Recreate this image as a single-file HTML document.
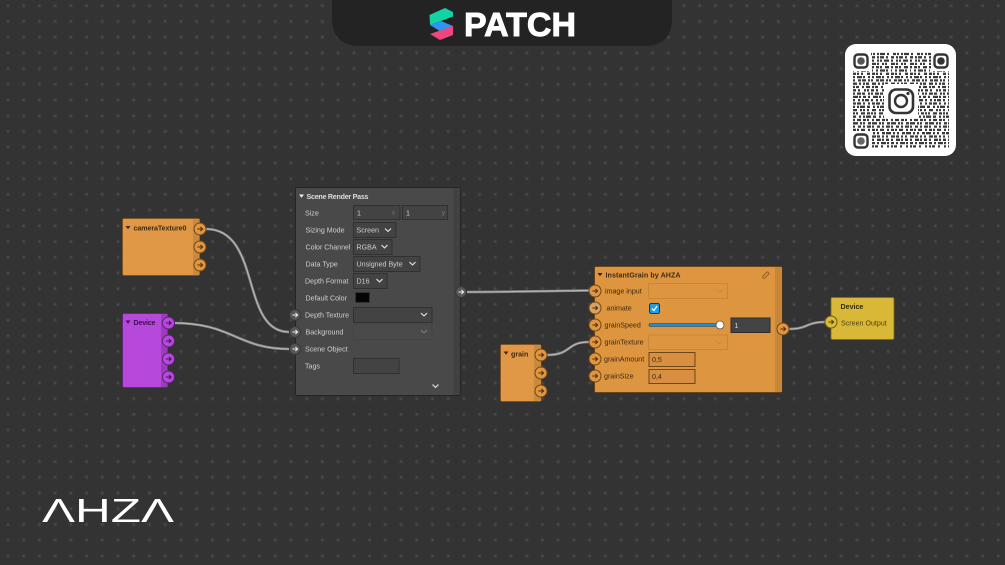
<!DOCTYPE html>
<html><head><meta charset="utf-8"><style>
html,body{margin:0;padding:0;background:#333}
svg{display:block;filter:blur(.35px)}
text{font-family:"Liberation Sans",sans-serif;font-size:7.1px}
.l{fill:#cfcfcf}.d{fill:#3d2a12}.b{font-weight:bold}
.inp{fill:#434343;stroke:#313131;stroke-width:1}
.dis{fill:#4a4a4a;stroke:#444;stroke-width:1}
.ch{fill:none;stroke:#ddd;stroke-width:1.2}
.w{fill:none;stroke:#858585;stroke-width:2.6}
.w2{fill:none;stroke:#bdbdbd;stroke-width:.9}
.oi{fill:#d98f42;stroke:#6e4718;stroke-width:1}
.od{fill:#dd9540;stroke:#c98638;stroke-width:1}
.q line{stroke:#3a3a3a;stroke-width:2.3}
</style></head><body>
<svg width="1005" height="565" viewBox="0 0 1005 565" xmlns="http://www.w3.org/2000/svg">
<defs>
<pattern id="g" width="15.72" height="15.72" patternUnits="userSpaceOnUse" x="0.14" y="-2.16">
<circle cx="7.86" cy="7.86" r="2.2" fill="#3a3a3a"/>
<circle cx="7.86" cy="7.86" r="1.1" fill="#4a4a4a"/>
</pattern>
<g id="a"><path d="M-2.6 0H2.4M.4-2 2.6 0 .4 2" fill="none" stroke-width="1"/></g>
<g id="po"><circle r="6" fill="#e09540" stroke="#6e4718"/><use href="#a" stroke="#4a2f0e"/></g>
<g id="pp"><circle r="6" fill="#b748dc" stroke="#5b2370"/><use href="#a" stroke="#401650"/></g>
<g id="pg"><circle r="5.5" fill="#575757" stroke="#383838"/><use href="#a" stroke="#eee"/></g>
<g id="py"><circle r="6" fill="#dbbb38" stroke="#6b5a12"/><use href="#a" stroke="#4a3d08"/></g>
<path id="c" d="M-3-1.4 0 1.4 3-1.4"/>
<path id="t" d="M-2.5-1.5H2.5L0 1.7Z"/>
</defs>
<rect width="1005" height="565" fill="#333"/>
<rect width="1005" height="565" fill="url(#g)"/>

<!-- top bar -->
<path d="M332 0H672V18Q672 46 644 46H360Q332 46 332 18Z" fill="#232323"/>
<polygon points="429.5,15 445,8 453,12 453,16.5 441,21 430,25" fill="#12d3a4"/>
<polygon points="430,25 441,21 453,26 453,29 443,33" fill="#2e95f2"/>
<polygon points="430,34 453,26 453,35 440,40" fill="#f0467f"/>
<text x="464" y="36" font-weight="bold" style="font-size:33px" fill="#fff" stroke="#fff" stroke-width=".9" textLength="112" lengthAdjust="spacingAndGlyphs">PATCH</text>

<!-- QR -->
<rect x="845" y="44" width="111" height="112" rx="11" fill="#fff"/>
<g class="q">
<line x1="853" x2="949" y1="54" y2="54" stroke-dasharray="2 1 5 2 2 4 3 1 2 2"/>
<line x1="853" x2="949" y1="57.3" y2="57.3" stroke-dasharray="3 2 2 1 4 2 2 3"/>
<line x1="853" x2="949" y1="60.6" y2="60.6" stroke-dasharray="2 3 2 1 2 2 5 2"/>
<line x1="853" x2="949" y1="63.9" y2="63.9" stroke-dasharray="4 1 2 3 2 1 2 4"/>
<line x1="853" x2="949" y1="67.2" y2="67.2" stroke-dasharray="2 2 3 1 2 3 4 2"/>
<line x1="853" x2="949" y1="70.5" y2="70.5" stroke-dasharray="1 3 2 2 5 1 2 3"/>
<line x1="853" x2="949" y1="73.8" y2="73.8" stroke-dasharray="3 1 2 2 2 4 3 2"/>
<line x1="853" x2="949" y1="77.1" y2="77.1" stroke-dasharray="2 2 5 1 2 3 2 2"/>
<line x1="853" x2="949" y1="80.4" y2="80.4" stroke-dasharray="2 3 3 1 4 2 2 1"/>
<line x1="853" x2="949" y1="83.7" y2="83.7" stroke-dasharray="4 2 2 2 2 1 3 3"/>
<line x1="853" x2="949" y1="87" y2="87" stroke-dasharray="2 1 3 3 2 2 4 2"/>
<line x1="853" x2="949" y1="90.3" y2="90.3" stroke-dasharray="3 2 2 4 2 1 2 2"/>
<line x1="853" x2="949" y1="93.6" y2="93.6" stroke-dasharray="2 2 4 1 3 3 2 1"/>
<line x1="853" x2="949" y1="96.9" y2="96.9" stroke-dasharray="5 1 2 2 3 2 2 3"/>
<line x1="853" x2="949" y1="100.2" y2="100.2" stroke-dasharray="2 3 2 2 2 1 4 2"/>
<line x1="853" x2="949" y1="103.5" y2="103.5" stroke-dasharray="3 1 4 2 2 3 2 2"/>
<line x1="853" x2="949" y1="106.8" y2="106.8" stroke-dasharray="2 2 2 1 5 2 3 3"/>
<line x1="853" x2="949" y1="110.1" y2="110.1" stroke-dasharray="4 3 2 1 2 2 2 3"/>
<line x1="853" x2="949" y1="113.4" y2="113.4" stroke-dasharray="2 1 2 3 4 2 3 1"/>
<line x1="853" x2="949" y1="116.7" y2="116.7" stroke-dasharray="3 3 2 2 2 1 5 2"/>
<line x1="853" x2="949" y1="120" y2="120" stroke-dasharray="2 2 4 2 3 1 2 3"/>
<line x1="853" x2="949" y1="123.3" y2="123.3" stroke-dasharray="5 2 2 1 2 3 3 1"/>
<line x1="853" x2="949" y1="126.6" y2="126.6" stroke-dasharray="2 3 3 2 2 2 4 1"/>
<line x1="853" x2="949" y1="129.9" y2="129.9" stroke-dasharray="3 1 2 2 4 3 2 2"/>
<line x1="853" x2="949" y1="133.2" y2="133.2" stroke-dasharray="2 2 2 3 3 1 5 2"/>
<line x1="853" x2="949" y1="136.5" y2="136.5" stroke-dasharray="4 1 3 2 2 2 2 3"/>
<line x1="853" x2="949" y1="139.8" y2="139.8" stroke-dasharray="2 3 4 1 2 2 3 2"/>
<line x1="853" x2="949" y1="143.1" y2="143.1" stroke-dasharray="3 2 2 2 5 1 2 2"/>
<line x1="853" x2="949" y1="146.4" y2="146.4" stroke-dasharray="2 1 3 3 2 4 2 2"/>
</g>
<rect x="851" y="51" width="20" height="20" fill="#fff"/>
<rect x="931" y="51" width="20" height="20" fill="#fff"/>
<rect x="851" y="131" width="20" height="20" fill="#fff"/>
<rect x="884" y="84" width="34" height="34" fill="#fff"/>
<g fill="none" stroke="#333" stroke-width="2.4">
<rect x="854.5" y="54.5" width="13" height="13" rx="3.5"/>
<rect x="934.5" y="54.5" width="13" height="13" rx="3.5"/>
<rect x="854.5" y="134.5" width="13" height="13" rx="3.5"/>
<rect x="889.5" y="89.5" width="23.5" height="23.5" rx="6.5" stroke-width="2.6"/>
<circle cx="901" cy="101" r="6" stroke-width="2.4"/>
</g>
<circle cx="861" cy="61" r="3.8" fill="#555"/><circle cx="941" cy="61" r="3.8" fill="#333"/><circle cx="861" cy="141" r="3.8" fill="#666"/>
<circle cx="908" cy="93.5" r="1.6" fill="#333"/>

<!-- wires -->
<g id="wires">
<path class="w" d="M206 229C262 229 240 332 289 332"/><path class="w2" d="M206 229C262 229 240 332 289 332"/>
<path class="w" d="M174 323C232 323 238 349 289 349"/><path class="w2" d="M174 323C232 323 238 349 289 349"/>
<path class="w" d="M467 292C520 292 540 291 589 290.5"/><path class="w2" d="M467 292C520 292 540 291 589 290.5"/>
<path class="w" d="M547 355C572 355 566 342 589 342"/><path class="w2" d="M547 355C572 355 566 342 589 342"/>
<path class="w" d="M789 329C808 329 806 322 825 322"/><path class="w2" d="M789 329C808 329 806 322 825 322"/>
</g>

<!-- cameraTexture0 -->
<rect x="122.5" y="218.5" width="77" height="57" rx="1.5" fill="#e09847" stroke="#7a4f1c" stroke-width=".8"/>
<rect x="193" y="219" width="6.5" height="56" fill="#c98a3f"/>
<use href="#t" x="128" y="227.5" fill="#3d2a12"/>
<text x="133.5" y="230.5" class="d b" textLength="53">cameraTexture0</text>
<use href="#po" x="200" y="229"/><use href="#po" x="200" y="247"/><use href="#po" x="200" y="265"/>

<!-- Device purple -->
<rect x="122.5" y="313.5" width="45" height="74" rx="1.5" fill="#b748dc" stroke="#5b2370" stroke-width=".8"/>
<rect x="161" y="314" width="6.5" height="73" fill="#9b3dbb"/>
<use href="#t" x="128" y="322" fill="#3a1249"/>
<text x="133.5" y="325" fill="#3a1249" class="b" textLength="22">Device</text>
<use href="#pp" x="168.5" y="323"/><use href="#pp" x="168.5" y="341"/><use href="#pp" x="168.5" y="359"/><use href="#pp" x="168.5" y="377"/>

<!-- Scene Render Pass -->
<rect x="295.5" y="187.5" width="165" height="208" rx="1.5" fill="#494949" stroke="#252525"/>
<rect x="453.5" y="188" width="6.5" height="207" fill="#414141"/>
<use href="#t" x="301.5" y="196" fill="#eee"/>
<text x="306.5" y="199" class="b" fill="#ddd" textLength="62">Scene Render Pass</text>
<g class="l">
<text x="305" y="215.5">Size</text>
<text x="305.5" y="232.5">Sizing Mode</text>
<text x="305.5" y="249.5" textLength="45" lengthAdjust="spacingAndGlyphs">Color Channel</text>
<text x="305.5" y="266.5">Data Type</text>
<text x="305" y="283.5">Depth Format</text>
<text x="305.5" y="300.5">Default Color</text>
<text x="305" y="317.5">Depth Texture</text>
<text x="305.5" y="334.5">Background</text>
<text x="305" y="351.5">Scene Object</text>
<text x="305" y="368.5">Tags</text>
</g>
<rect class="inp" x="353.5" y="205.5" width="46.5" height="14"/>
<rect class="inp" x="402.5" y="205.5" width="45" height="14"/>
<rect class="inp" x="353.5" y="222.5" width="42.5" height="15"/>
<rect class="inp" x="353.5" y="239.5" width="38.5" height="15"/>
<rect class="inp" x="353.5" y="256.5" width="66.5" height="15"/>
<rect class="inp" x="353.5" y="273.5" width="33.5" height="15"/>
<rect x="355.5" y="292.5" width="14" height="10" fill="#050505" stroke="#333"/>
<rect class="inp" x="353.5" y="307.5" width="78.5" height="15"/>
<rect class="dis" x="353.5" y="324.5" width="78.5" height="15"/>
<rect class="inp" x="353.5" y="358.5" width="45.5" height="15"/>
<g class="l">
<text x="357" y="215.5">1</text><text x="406" y="215.5">1</text>
<text x="356.5" y="232.5">Screen</text><text x="356.5" y="249.5">RGBA</text>
<text x="356.5" y="266.5">Unsigned Byte</text><text x="356.5" y="283.5">D16</text>
</g>
<text x="392" y="214.5" fill="#777" style="font-size:6px">x</text>
<text x="442" y="214.5" fill="#777" style="font-size:6px">y</text>
<use href="#c" class="ch" x="388" y="230"/><use href="#c" class="ch" x="384.5" y="246.5"/>
<use href="#c" class="ch" x="412.5" y="263.5"/><use href="#c" class="ch" x="379.5" y="280.5"/>
<use href="#c" class="ch" x="424" y="314.5"/><use href="#c" x="424" y="331.5" fill="none" stroke="#777" stroke-width="1.2"/>
<use href="#c" class="ch" x="435.5" y="386"/>
<use href="#pg" x="295" y="315"/><use href="#pg" x="295" y="332"/><use href="#pg" x="295" y="349"/><use href="#pg" x="461" y="292"/>

<!-- InstantGrain -->
<rect x="594.5" y="266.5" width="187.5" height="126" rx="1.5" fill="#dd9540" stroke="#5e3d15" stroke-width=".8"/>
<rect x="775" y="267" width="7" height="125" fill="#c88638"/>
<use href="#t" x="600" y="274.5" fill="#33230d"/>
<text x="605.5" y="277.5" class="d b" textLength="75">InstantGrain by AHZA</text>
<path d="M763 276l3.5-3.5a1.3 1.3 0 0 1 2 1.8l-3.5 3.5a1.3 1.3 0 0 1-2-1.8Z" fill="none" stroke="#8a5a22" stroke-width=".9"/>
<g class="d">
<text x="605" y="293.5">image input</text>
<text x="606.5" y="310.5">animate</text>
<text x="604.5" y="327.5">grainSpeed</text>
<text x="604.5" y="344.5">grainTexture</text>
<text x="604" y="361.5">grainAmount</text>
<text x="604" y="378.5">grainSize</text>
</g>
<rect class="od" x="648.5" y="283.5" width="79" height="15"/>
<rect class="od" x="648.5" y="335" width="79" height="14.5"/>
<use href="#c" x="719.5" y="291" fill="none" stroke="#c98a40"/><use href="#c" x="719.5" y="342.5" fill="none" stroke="#c98a40"/>
<rect x="649.5" y="303.5" width="10" height="10" rx="1.8" fill="#1f9fe8" stroke="#15364d"/>
<path d="M652 308.5l2 2 3-4.5" fill="none" stroke="#fff" stroke-width="1.2"/>
<rect x="649" y="323.5" width="71" height="3" rx="1.5" fill="#1c8fd6" stroke="#3a3a3a" stroke-width=".6"/>
<circle cx="720" cy="325" r="4" fill="#fff" stroke="#555" stroke-width=".8"/>
<rect x="731" y="318" width="39" height="14.5" fill="#444" stroke="#2b2b2b"/>
<text x="734.5" y="328" fill="#d5d5d5">1</text>
<rect class="oi" x="649" y="352.5" width="46" height="14"/>
<rect class="oi" x="649" y="369.5" width="46" height="14"/>
<text x="652" y="362" class="d">0,5</text><text x="652" y="379" class="d">0,4</text>
<use href="#po" x="595" y="291"/>
<circle cx="595" cy="308" r="6" fill="#d9a25f" stroke="#6e4718"/><use href="#a" x="595" y="308" stroke="#4a2f0e"/>
<use href="#po" x="595" y="325"/><use href="#po" x="595" y="342"/><use href="#po" x="595" y="359"/><use href="#po" x="595" y="376"/>
<use href="#po" x="783" y="329"/>

<!-- grain -->
<rect x="500.5" y="344.5" width="40.5" height="57" rx="1.5" fill="#e09847" stroke="#7a4f1c" stroke-width=".8"/>
<rect x="534" y="345" width="7" height="56" fill="#c98a3f"/>
<use href="#t" x="506" y="353" fill="#3d2a12"/>
<text x="511" y="356.5" class="d b">grain</text>
<use href="#po" x="541" y="355"/><use href="#po" x="541" y="373"/><use href="#po" x="541" y="391"/>

<!-- Device yellow -->
<rect x="831" y="297.5" width="63" height="42" rx="1.5" fill="#d8b836" stroke="#7a6a1c" stroke-width=".8"/>
<text x="840.5" y="309" fill="#33290a" class="b">Device</text>
<text x="841" y="325.5" fill="#4d410f">Screen Output</text>
<use href="#py" x="831" y="322"/>

<!-- logo -->
<text x="42" y="522" fill="#fff" style="font-size:33px" textLength="132" lengthAdjust="spacingAndGlyphs">ΛHZΛ</text>
</svg>
</body></html>
